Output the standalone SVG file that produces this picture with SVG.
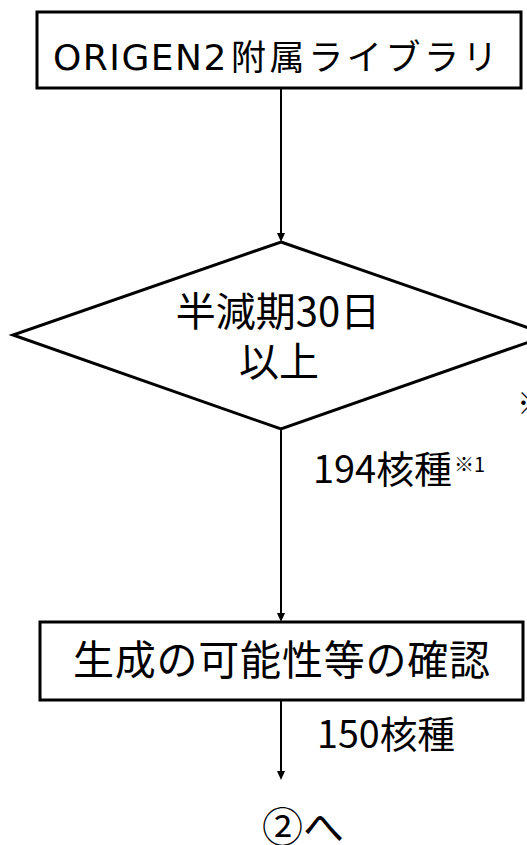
<svg xmlns="http://www.w3.org/2000/svg" width="527" height="845" viewBox="0 0 527 845">
<defs>
<style>
.box{fill:#fff;stroke:#000;stroke-width:3}
.t{font-family:"Noto Sans CJK JP","Noto Sans",sans-serif;fill:#000}
.lat{font-family:"DejaVu Sans","Noto Sans CJK JP",sans-serif}
.c{stroke:#000;stroke-width:2;fill:none}
</style>
</defs>
<rect width="527" height="845" fill="#fff"/>
<g id="connectors">
<line class="c" x1="281" y1="88" x2="281" y2="233"/>
<path d="M277,233 L285,233 L281,242 Z" fill="#000"/>
<line class="c" x1="281" y1="429" x2="281" y2="613"/>
<path d="M277,613 L285,613 L281,622 Z" fill="#000"/>
<line class="c" x1="281" y1="700" x2="281" y2="771"/>
<path d="M277,771 L285,771 L281,780 Z" fill="#000"/>
</g>
<g id="node-origen">
<rect class="box" x="37" y="12" width="484" height="76"/>
<text class="t" y="70" font-size="35"><tspan class="lat" x="53" font-size="36" letter-spacing="1.5">ORIGEN2</tspan><tspan x="231" letter-spacing="3.6">附属ライブラリ</tspan></text>
</g>
<g id="node-halflife">
<polygon class="box" points="281,242 549,335 281,429 13,335"/>
<text class="t" x="278" y="326" font-size="40" text-anchor="middle">半減期30日</text>
<text class="t" x="279" y="376" font-size="40" text-anchor="middle">以上</text>
</g>
<g id="node-check">
<rect class="box" x="40" y="622" width="483" height="78"/>
<text class="t" x="73" y="675" font-size="41" textLength="417" lengthAdjust="spacing">生成の可能性等の確認</text>
</g>
<g id="labels">
<text class="t" x="517" y="414" font-size="30">※</text>
<text class="t" x="313" y="483" font-size="38" textLength="139" lengthAdjust="spacingAndGlyphs">194核種</text>
<text class="t" x="454" y="472" font-size="20">※1</text>
<text class="t" x="317" y="748" font-size="38" textLength="138" lengthAdjust="spacingAndGlyphs">150核種</text>
<text class="t" x="262" y="842" font-size="41">②へ</text>
</g>
</svg>
